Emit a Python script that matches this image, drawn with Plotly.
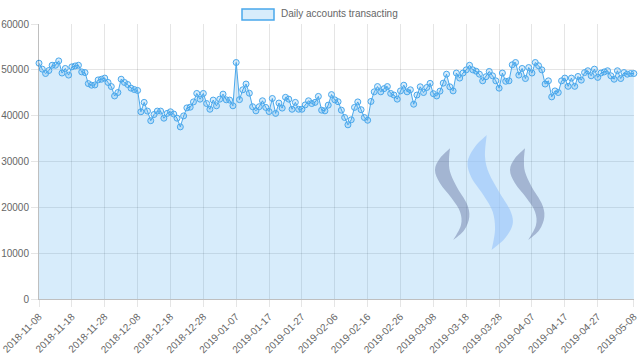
import plotly.graph_objects as go
import pandas as pd

start_date = "2018-11-08"
accounts = [
    51450, 50150, 49200, 49850, 51000, 51000, 51950, 49300, 50300, 48850,
    50650, 50850, 51000, 49550, 49400, 47000, 46650, 46700, 47800, 47950,
    48200, 47250, 46350, 44300, 45050, 47950, 47250, 46800, 46000, 45700,
    45500, 40850, 42900, 41000, 38900, 40250, 41000, 41000, 39450, 40500,
    40850, 40350, 39450, 37550, 39950, 41700, 41850, 43000, 44850, 43600,
    44850, 42650, 41400, 43400, 42150, 43600, 44700, 43450, 43400, 42150,
    51600, 43500, 45650, 46900, 44900, 41950, 41050, 41950, 43250, 41800,
    40900, 43750, 40500, 42750, 41650, 44000, 43600, 41400, 42900, 41400,
    41400, 42350, 43250, 42650, 42900, 44200, 41200, 41050, 42300, 44600,
    43450, 43050, 41200, 39600, 38000, 39100, 41800, 43000, 41300, 39600,
    39000, 43100, 45200, 46350, 45200, 45900, 46350, 44850, 44500, 43600,
    45400, 46650, 45200, 45650, 42500, 44500, 46300, 45050, 46150, 47050,
    44800, 44300, 45350, 47100, 49050, 46300, 45400, 49300, 48200, 49300,
    50000, 51000, 50000, 49700, 49050, 47600, 48500, 49650, 48700, 47600,
    46000, 49300, 47500, 47600, 51100, 51600, 48850, 50300, 48100, 50500,
    49300, 51600, 50900, 50000, 46900, 47600, 44100, 45400, 45050, 47600,
    48200, 46400, 48200, 46400, 48550, 47750, 49400, 49800, 48700, 50150,
    48350, 49300, 49550, 49800, 48700, 47950, 49800, 48100, 49400, 49050,
    49200, 49200,
]
dates = pd.date_range(start_date, periods=len(accounts), freq="D")
tick_labels = [
    "2018-11-08", "2018-11-18", "2018-11-28", "2018-12-08", "2018-12-18",
    "2018-12-28", "2019-01-07", "2019-01-17", "2019-01-27", "2019-02-06",
    "2019-02-16", "2019-02-26", "2019-03-08", "2019-03-18", "2019-03-28",
    "2019-04-07", "2019-04-17", "2019-04-27", "2019-05-08",
]
series_name = "Daily accounts transacting"
y_ticks = [0, 10000, 20000, 30000, 40000, 50000, 60000]

FONT = "Liberation Sans, Arial, Helvetica, sans-serif"
LINE = "rgb(74,168,236)"
FILL = "rgba(54,162,235,0.2)"
GRID = "rgba(0,0,0,0.1)"

fig = go.Figure()
fig.add_trace(go.Scatter(
    x=dates, y=accounts, name=series_name, mode="lines+markers",
    fill="tozeroy", fillcolor=FILL,
    line=dict(color=LINE, width=1),
    marker=dict(size=6, color=FILL, line=dict(color=LINE, width=1)),
    showlegend=False, cliponaxis=False,
))

# Steem-like watermark (three S strokes), pixel coords -> paper
def to_paper(px, py):
    return ((px - 39) / 595.0, (299 - py) / 275.0)

def catmull(pts):
    segs = []
    n = len(pts)
    for i in range(n - 1):
        p0 = pts[i - 1] if i > 0 else pts[i]
        p1, p2 = pts[i], pts[i + 1]
        p3 = pts[i + 2] if i + 2 < n else pts[i + 1]
        c1 = (p1[0] + (p2[0] - p0[0]) / 6, p1[1] + (p2[1] - p0[1]) / 6)
        c2 = (p2[0] - (p3[0] - p1[0]) / 6, p2[1] - (p3[1] - p1[1]) / 6)
        segs.append("C %.4f,%.4f %.4f,%.4f %.4f,%.4f" % (c1 + c2 + p2))
    return " ".join(segs)

def s_path(left_edge, right_edge, dx=0):
    conv = lambda pl: [to_paper(425 + (zx + dx) / 3.0, 130 + zy / 3.0) for zx, zy in pl]
    le, re = conv(left_edge), conv(right_edge)
    return "M %.4f,%.4f " % le[0] + catmull(le) + " " + catmull(re) + " Z"

side_l = [(75, 55), (45, 85), (30, 120), (45, 160), (80, 205), (105, 245),
          (108, 285), (85, 330)]
side_r = [(85, 330), (118, 300), (133, 260), (125, 220), (95, 170),
          (75, 125), (72, 90), (75, 55)]
mid_l = [(185, 15), (150, 50), (128, 95), (138, 140), (175, 195), (203, 245),
         (210, 300), (200, 360)]
mid_r = [(200, 360), (240, 325), (263, 282), (255, 240), (222, 185),
         (192, 130), (180, 80), (185, 15)]

for le, re, dx, col in [(side_l, side_r, 0, "rgba(100,115,160,0.45)"),
                        (mid_l, mid_r, 0, "rgba(150,195,250,0.6)"),
                        (side_l, side_r, 225, "rgba(100,115,160,0.45)")]:
    fig.add_shape(type="path", xref="paper", yref="paper",
                  path=s_path(le, re, dx), fillcolor=col,
                  line=dict(width=0), layer="above")

# legend box drawn chart.js style
x0, y0 = to_paper(242, 20)
x1, y1 = to_paper(274, 9)
fig.add_shape(type="rect", xref="paper", yref="paper", x0=x0, y0=y0, x1=x1, y1=y1,
              fillcolor=FILL, line=dict(color=LINE, width=1.5))
tx, ty = to_paper(279, 14)
fig.add_annotation(xref="paper", yref="paper", x=tx, y=ty, text=series_name,
                   showarrow=False, xanchor="left", yanchor="middle",
                   font=dict(family=FONT, size=10, color="#666"))

fig.update_layout(
    width=640, height=361,
    margin=dict(l=39, r=6, t=24, b=62, autoexpand=False),
    paper_bgcolor="white", plot_bgcolor="white",
    font=dict(family=FONT, size=10, color="#666"),
    showlegend=False,
)
fig.update_xaxes(
    type="date", range=[dates[0], dates[-1] + pd.Timedelta(hours=1)],
    tickmode="array", tickvals=pd.to_datetime(tick_labels), ticktext=tick_labels,
    tickangle=-45, showgrid=True, gridcolor=GRID, gridwidth=1,
    ticks="outside", ticklen=7, tickcolor=GRID, automargin=False,
    showline=True, linecolor="rgba(0,0,0,0.25)", linewidth=1,
    tickfont=dict(family=FONT, size=10, color="#666"),
)
fig.update_yaxes(
    range=[0, 60000], tickmode="array", tickvals=y_ticks,
    ticktext=[str(v) for v in y_ticks], automargin=False,
    showgrid=True, gridcolor=GRID, gridwidth=1,
    ticks="outside", ticklen=7, tickcolor=GRID,
    showline=True, linecolor="rgba(0,0,0,0.25)", linewidth=1,
    zeroline=False, tickfont=dict(family=FONT, size=10, color="#666"),
)

fig.write_html("out.html", config={"displayModeBar": False},
               post_script="document.body.style.margin='0';")
